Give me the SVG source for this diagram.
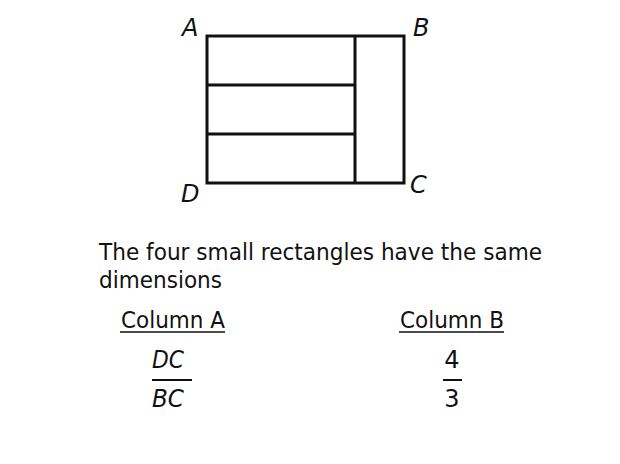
<svg xmlns="http://www.w3.org/2000/svg" width="620" height="464" viewBox="0 0 620 464">
<style>
.t{font-family:"DejaVu Sans","Liberation Sans",sans-serif;fill:#111;font-size:23px}
.l{font-size:24px}
.i{font-style:italic}
.ln{stroke:#111;stroke-width:3;fill:none}
</style>
<rect width="620" height="464" fill="#fff"/>
<g id="figure">
<rect class="ln" x="207" y="36" width="197" height="147"/>
<line class="ln" x1="355" y1="36" x2="355" y2="183"/>
<line class="ln" x1="207" y1="85" x2="355" y2="85"/>
<line class="ln" x1="207" y1="134" x2="355" y2="134"/>
</g>
<g id="labels">
<text class="t l i" x="182" y="36">A</text>
<text class="t l i" x="413" y="36">B</text>
<text class="t l i" x="410" y="193">C</text>
<text class="t l i" x="181" y="202">D</text>
</g>
<g id="statement">
<text class="t" x="99" y="260" textLength="443" lengthAdjust="spacingAndGlyphs">The four small rectangles have the same</text>
<text class="t" x="99" y="288" textLength="123" lengthAdjust="spacingAndGlyphs">dimensions</text>
</g>
<g id="columnA">
<text class="t" x="121" y="328" textLength="104" lengthAdjust="spacingAndGlyphs">Column A</text>
<line x1="120" y1="332" x2="225" y2="332" stroke="#111" stroke-width="1.5"/>
<text class="t l i" x="152" y="368" textLength="32" lengthAdjust="spacingAndGlyphs">DC</text>
<line x1="152" y1="380" x2="192" y2="380" stroke="#111" stroke-width="2"/>
<text class="t l i" x="152" y="407" textLength="32" lengthAdjust="spacingAndGlyphs">BC</text>
</g>
<g id="columnB">
<text class="t" x="400" y="328" textLength="104" lengthAdjust="spacingAndGlyphs">Column B</text>
<line x1="399" y1="332" x2="504" y2="332" stroke="#111" stroke-width="1.5"/>
<text class="t l" x="452" y="368" text-anchor="middle">4</text>
<line x1="443" y1="380" x2="462" y2="380" stroke="#111" stroke-width="2"/>
<text class="t l" x="452" y="407" text-anchor="middle">3</text>
</g>
</svg>
